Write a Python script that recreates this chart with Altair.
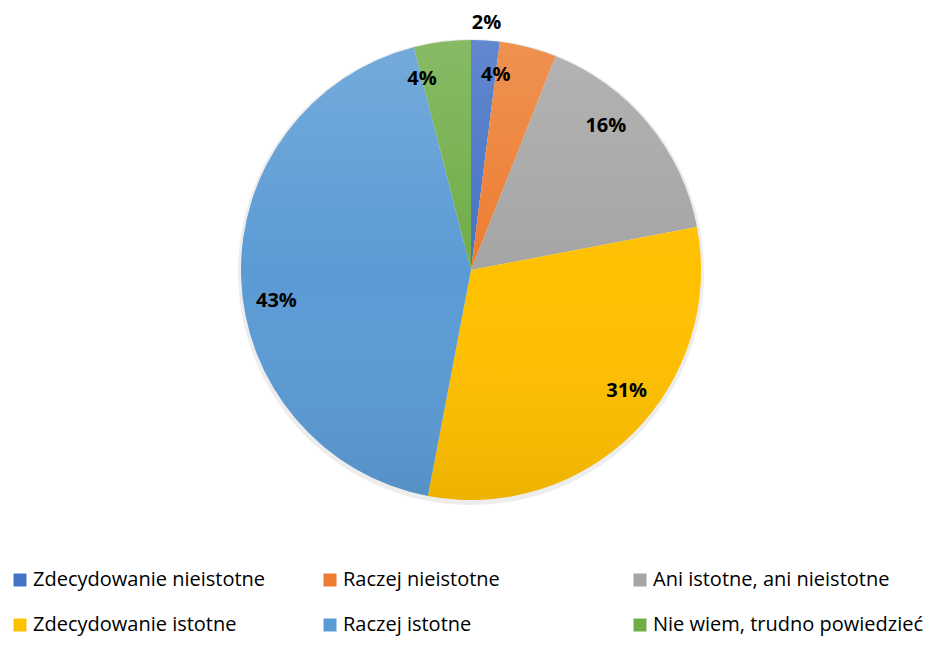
import altair as alt
import pandas as pd

categories = [
    "Zdecydowanie nieistotne",
    "Raczej nieistotne",
    "Ani istotne, ani nieistotne",
    "Zdecydowanie istotne",
    "Raczej istotne",
    "Nie wiem, trudno powiedzieć",
]
values = [2, 4, 16, 31, 43, 4]
colors = ["#4472C4", "#ED7D31", "#A5A5A5", "#FFC000", "#5B9BD5", "#70AD47"]

df = pd.DataFrame({"kategoria": categories, "wartosc": values, "kolejnosc": list(range(len(values)))})
one = pd.DataFrame({"a": [0]})

W, H = 926, 524
R = 230
FONT = "Open Sans"

base = alt.Chart(df).encode(
    theta=alt.Theta("wartosc:Q", stack=True),
    order=alt.Order("kolejnosc:Q", sort="ascending"),
)

shadow = alt.Chart(one).mark_arc(outerRadius=R + 3, fill="#000000", opacity=0.07, yOffset=2).encode(
    theta=alt.value(0), theta2=alt.value(6.2832)
)

arcs = base.mark_arc(outerRadius=R).encode(
    color=alt.Color(
        "kategoria:N",
        scale=alt.Scale(domain=categories, range=colors),
        sort=categories,
        legend=alt.Legend(
            title=None,
            orient="none",
            legendX=2,
            legendY=562,
            columns=3,
            direction="horizontal",
            gridAlign="all",
            columnPadding=16,
            rowPadding=25,
            symbolType="square",
            symbolSize=169,
            symbolStrokeWidth=0,
            labelFont=FONT,
            labelFontSize=20,
            labelColor="#000000",
            labelOffset=3,
            labelLimit=500,
        ),
    ),
)

overlay = alt.Chart(one).mark_arc(
    outerRadius=R,
    fill=alt.Gradient(
        gradient="linear",
        x1=0, y1=0, x2=0, y2=1,
        stops=[
            alt.GradientStop(color="rgba(255,255,255,0.16)", offset=0),
            alt.GradientStop(color="rgba(255,255,255,0.0)", offset=0.5),
            alt.GradientStop(color="rgba(0,0,0,0.07)", offset=1),
        ],
    ),
).encode(theta=alt.value(0), theta2=alt.value(6.2832))

labels = base.mark_text(font=FONT, fontSize=20, fontWeight="bold", color="#000000").encode(
    text="etykieta:N",
    radius=alt.Radius("r:Q", scale=None),
).transform_calculate(
    etykieta="datum.wartosc + '%'",
    r="datum.wartosc < 3 ? 247 : 197",
)

chart = (
    alt.layer(shadow, arcs, overlay, labels)
    .properties(
        width=W,
        height=H,
        autosize=alt.AutoSizeParams(type="none"),
        padding={"left": 0, "top": 0, "right": 4, "bottom": 106},
        background="#ffffff",
    )
    .configure_view(stroke=None)
)

chart.save("out.html", embed_options={"renderer": "svg", "actions": False})
